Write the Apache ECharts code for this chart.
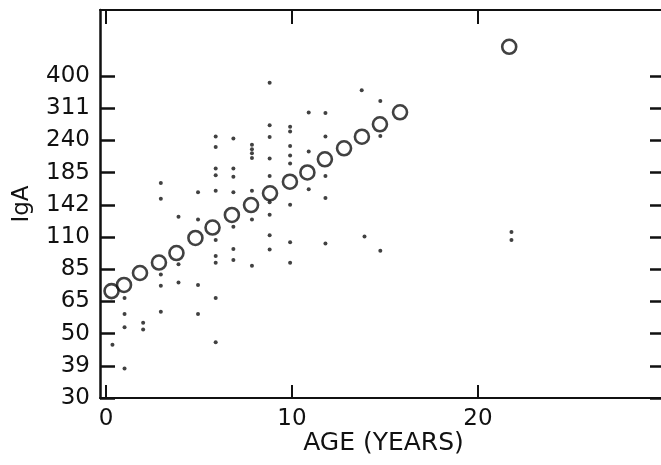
<!DOCTYPE html>
<html><head><meta charset="utf-8">
<script src="https://cdn.jsdelivr.net/npm/echarts@6/dist/echarts.min.js"></script>
<style>html,body{margin:0;padding:0;background:#fff}#c{width:661px;height:465px}</style>
</head><body><div id="c"></div>
<script>
// Y tick labels (IgA, evenly spaced on a log scale)
const yTickLabels = ['30','39','50','65','85','110','142','185','240','311','400'];
const xTickValues = [0, 10, 20];

// Fitted curve (open circles)
const fitAge = [0.3, 0.97, 1.83, 2.85, 3.79, 4.81, 5.73, 6.77, 7.8, 8.82, 9.89, 10.83, 11.77, 12.8, 13.76, 14.73, 15.81, 21.68];
const fitIgA = [70.9, 74.5, 82.0, 89.2, 96.3, 108.7, 118.2, 130.8, 141.7, 155.7, 170.9, 184.1, 204.7, 223.6, 245.5, 271.2, 298.7, 506];

// Observed values (small dots)
const obsAge = [
  0.35,
  1.0, 1.0, 1.0, 1.0,
  2.0, 2.0,
  2.95, 2.95, 2.95, 2.95, 2.95,
  3.9, 3.9, 3.9,
  4.95, 4.95, 4.95, 4.95,
  5.9, 5.9, 5.9, 5.9, 5.9, 5.9, 5.9, 5.9, 5.9, 5.9,
  6.85, 6.85, 6.85, 6.85, 6.85, 6.85, 6.85,
  7.85, 7.85, 7.85, 7.85, 7.85, 7.85, 7.85,
  8.8, 8.8, 8.8, 8.8, 8.8, 8.8, 8.8, 8.8, 8.8,
  9.9, 9.9, 9.9, 9.9, 9.9, 9.9, 9.9, 9.9,
  10.9, 10.9, 10.9,
  11.8, 11.8, 11.8, 11.8, 11.8,
  13.75, 13.9,
  14.75, 14.75, 14.75,
  21.8, 21.8
];
const obsIgA = [
  46,
  67, 59, 53, 38,
  55, 52,
  169, 149, 81, 74, 60,
  129, 88, 76,
  157, 126, 74.5, 59,
  246, 226, 190, 180, 159, 107, 94, 89, 67, 47,
  242, 190, 178, 157, 119, 99.5, 91,
  230, 222, 215, 207, 159, 126, 87,
  379, 269, 245, 206, 179, 145, 131, 111, 99,
  266, 256, 228, 211, 198, 142, 105, 89,
  298, 218, 161,
  297, 246, 179, 150, 104,
  357, 110,
  327, 247, 98,
  114, 107
];

// log-scale mapping: tick index i <-> 30 * (400/30)^(i/10)
const LOW = 30, HIGH = 400, STEPS = 10;
function toAxis(v) { return Math.log(v / LOW) / Math.log(HIGH / LOW) * STEPS; }

const tickIdx = yTickLabels.map((_, i) => i);
const fitData = fitAge.map((a, i) => [a, toAxis(fitIgA[i])]);
const obsData = obsAge.map((a, i) => [a, toAxis(obsIgA[i])]);

const font = 'DejaVu Sans';
const ink = '#111';

const chart = echarts.init(document.getElementById('c'), null, {renderer: 'canvas'});
chart.setOption({
  animation: false,
  backgroundColor: '#fff',
  grid: {left: 100, right: 0, top: 10, bottom: 67, containLabel: false, outerBoundsMode: 'none'},
  xAxis: [{
    type: 'value', position: 'bottom', min: -0.32, max: 29.84,
    name: 'AGE (YEARS)', nameLocation: 'middle', nameGap: 33, nameMoveOverlap: false,
    nameTextStyle: {fontFamily: font, fontSize: 25, color: ink, padding: [0, 0, 0, 6]},
    axisLine: {show: true, onZero: false, lineStyle: {color: ink, width: 2}},
    axisTick: {show: true, inside: true, length: 13, customValues: xTickValues, lineStyle: {color: ink, width: 2}},
    axisLabel: {show: true, customValues: xTickValues, margin: 10, fontFamily: font, fontSize: 23, color: ink},
    splitLine: {show: false}
  }, {
    type: 'value', position: 'top', min: -0.32, max: 29.84,
    axisLine: {show: true, onZero: false, lineStyle: {color: ink, width: 2}},
    axisTick: {show: true, inside: true, length: 14, customValues: xTickValues, lineStyle: {color: ink, width: 2}},
    axisLabel: {show: false},
    splitLine: {show: false}
  }],
  yAxis: [{
    type: 'value', position: 'left', min: 0, max: 12.05,
    name: 'IgA', nameLocation: 'middle', nameGap: 66, nameRotate: 90, nameMoveOverlap: false,
    nameTextStyle: {fontFamily: font, fontSize: 23, color: ink},
    axisLine: {show: true, onZero: false, lineStyle: {color: ink, width: 2.5}},
    axisTick: {show: true, inside: true, length: 15, customValues: tickIdx, lineStyle: {color: ink, width: 2.5}},
    axisLabel: {show: true, customValues: tickIdx, margin: 10, fontFamily: font, fontSize: 23, color: ink,
      formatter: v => yTickLabels[Math.round(v)] || ''},
    splitLine: {show: false}
  }, {
    type: 'value', position: 'right', min: 0, max: 12.05,
    axisLine: {show: true, onZero: false, lineStyle: {color: 'rgba(255,255,255,0)', width: 0}},
    axisTick: {show: true, inside: true, length: 11, customValues: tickIdx, lineStyle: {color: ink, width: 2.5}},
    axisLabel: {show: false},
    splitLine: {show: false}
  }],
  series: [{
    type: 'scatter', xAxisIndex: 0, yAxisIndex: 0, data: obsData,
    symbol: 'circle', symbolSize: 4, itemStyle: {color: ink}, z: 2
  }, {
    type: 'scatter', xAxisIndex: 0, yAxisIndex: 0, data: fitData,
    symbol: 'circle', symbolSize: 14,
    itemStyle: {color: 'rgba(0,0,0,0)', borderColor: ink, borderWidth: 2.6}, z: 3
  }]
});
</script>
</body></html>
